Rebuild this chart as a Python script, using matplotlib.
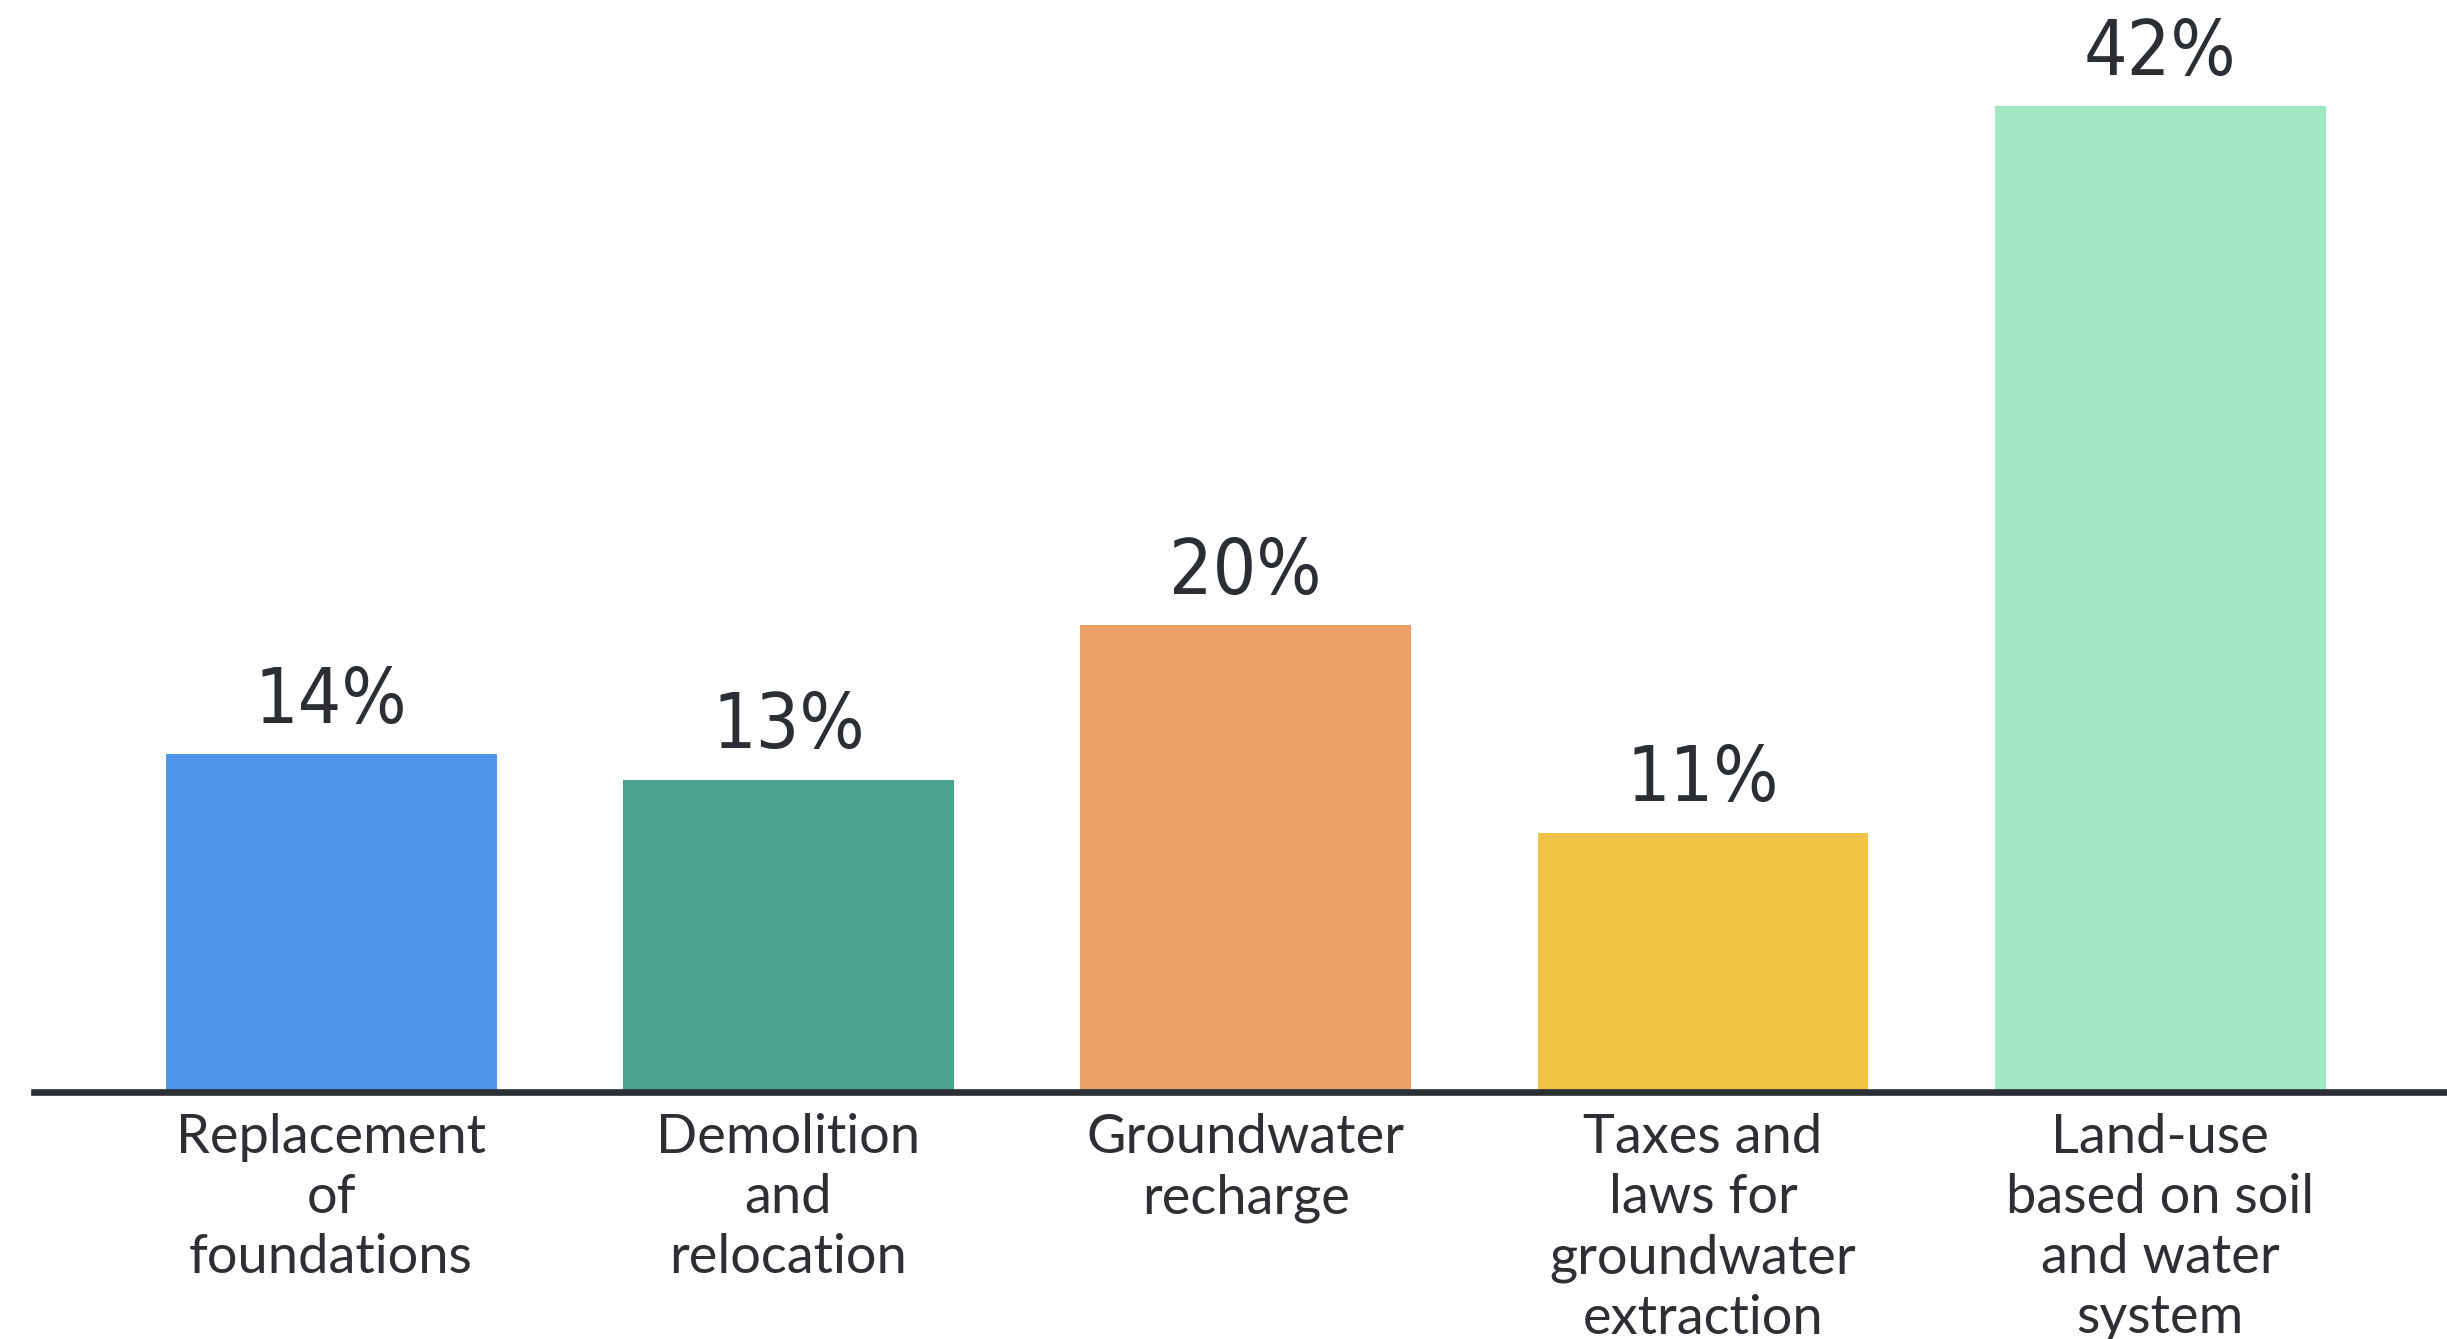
import matplotlib
matplotlib.use("Agg")
import matplotlib.pyplot as plt

categories = [
    "Replacement\nof\nfoundations",
    "Demolition\nand\nrelocation",
    "Groundwater\nrecharge",
    "Taxes and\nlaws for\ngroundwater\nextraction",
    "Land-use\nbased on soil\nand water\nsystem",
]
values = [14.4, 13.3, 19.9, 11.05, 42]
value_labels = ["14%", "13%", "20%", "11%", "42%"]
colors = ["#4d96ec", "#4ba391", "#eba068", "#f2c347", "#a3e6c3"]

W, H = 2447, 1339
fig = plt.figure(figsize=(W / 100, H / 100), dpi=100)
fig.patch.set_facecolor("white")

base_px = 1092  # baseline from top
ax = fig.add_axes([0, (H - base_px) / H, 1, base_px / H])

x = list(range(len(values)))
ax.bar(x, values, width=0.7235, color=colors, zorder=2)

ax.set_xlim(-0.724, 4.627)
ax.set_ylim(0, base_px / ((base_px - 106) / 42.0))

for xi, v, lab in zip(x, values, value_labels):
    ax.annotate(lab, (xi, v), xytext=(0, 11), textcoords="offset points",
                ha="center", va="bottom", fontsize=55, color="#2b2e33",
                family="DejaVu Sans", fontstretch="condensed")

ax.set_xticks(x)
ax.set_xticklabels(categories, fontsize=39, color="#2d2f33", family="Lato",
                   linespacing=1.28, va="top")
ax.tick_params(axis="x", length=0, pad=15)
ax.set_yticks([])

for s in ["top", "left", "right"]:
    ax.spines[s].set_visible(False)
ax.spines["bottom"].set_linewidth(4.8)
ax.spines["bottom"].set_color("#2b2f36")
ax.spines["bottom"].set_bounds(-0.649, 4.627)
ax.spines["bottom"].set_zorder(3)
ax.set_facecolor("none")

fig.savefig("out.png", dpi=100, facecolor="white")
